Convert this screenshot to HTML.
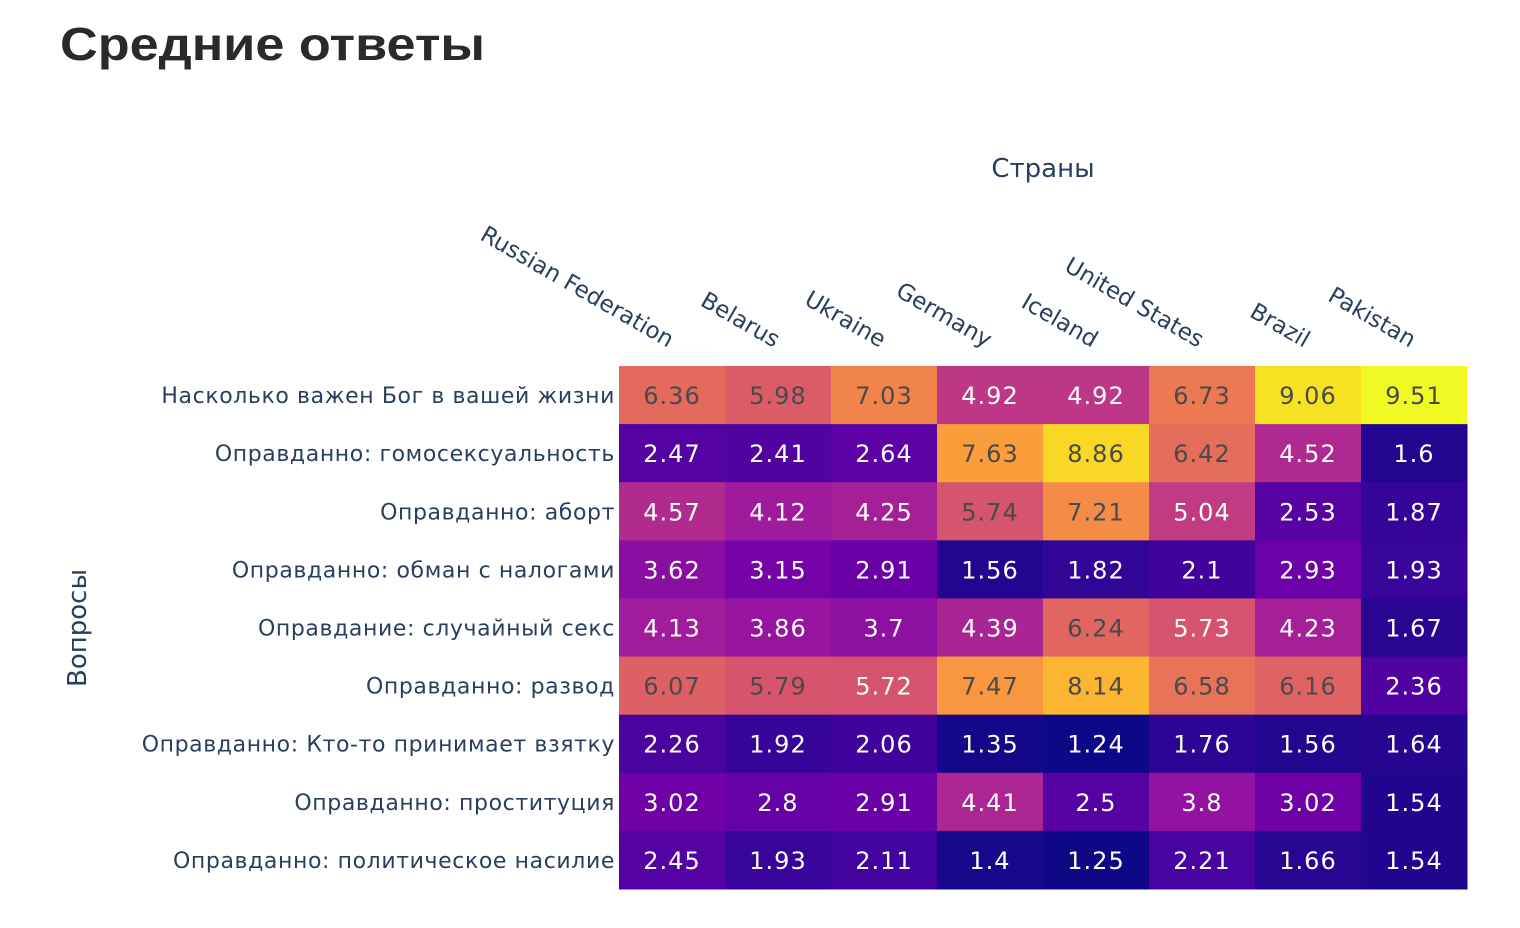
<!DOCTYPE html>
<html><head><meta charset="utf-8"><style>
body{margin:0;background:#fff;width:1520px;height:924px;overflow:hidden;font-family:"DejaVu Sans","Liberation Sans",sans-serif}
</style></head><body>
<svg id="chart" width="1520" height="924">
<text x="60" y="60" font-size="46" font-weight="bold" fill="#2a2a2a" font-family="Liberation Sans, sans-serif" textLength="425" lengthAdjust="spacingAndGlyphs">Средние ответы</text>
<text x="1043" y="177" font-size="26" fill="#2a3f5f" text-anchor="middle">Страны</text>
<text transform="translate(86,628) rotate(-90)" font-size="26" fill="#2a3f5f" text-anchor="middle">Вопросы</text>
<g id="cells"></g><g id="xl"></g><g id="yl"></g>
</svg>
<script>
const countries=["Russian Federation","Belarus","Ukraine","Germany","Iceland","United States","Brazil","Pakistan"];
const questions=["Насколько важен Бог в вашей жизни","Оправданно: гомосексуальность","Оправданно: аборт","Оправданно: обман с налогами","Оправдание: случайный секс","Оправданно: развод","Оправданно: Кто-то принимает взятку","Оправданно: проституция","Оправданно: политическое насилие"];
const values=[
[6.36,5.98,7.03,4.92,4.92,6.73,9.06,9.51],
[2.47,2.41,2.64,7.63,8.86,6.42,4.52,1.6],
[4.57,4.12,4.25,5.74,7.21,5.04,2.53,1.87],
[3.62,3.15,2.91,1.56,1.82,2.1,2.93,1.93],
[4.13,3.86,3.7,4.39,6.24,5.73,4.23,1.67],
[6.07,5.79,5.72,7.47,8.14,6.58,6.16,2.36],
[2.26,1.92,2.06,1.35,1.24,1.76,1.56,1.64],
[3.02,2.8,2.91,4.41,2.5,3.8,3.02,1.54],
[2.45,1.93,2.11,1.4,1.25,2.21,1.66,1.54]];
const plasma=["#0d0887","#46039f","#7201a8","#9c179e","#bd3786","#d8576b","#ed7953","#fb9f3a","#fdca26","#f0f921"];
const X0=619,X1=1467,Y0=366,Y1=889;
const cw=(X1-X0)/countries.length,rh=(Y1-Y0)/questions.length;
const xPos=i=>X0+i*cw, yPos=j=>Y0+j*rh;
const all=values.flat(),zmin=Math.min(...all),zmax=Math.max(...all);
function hex(h){return [1,3,5].map(k=>parseInt(h.substr(k,2),16));}
function color(v){let t=(v-zmin)/(zmax-zmin)*(plasma.length-1);let i=Math.min(Math.floor(t),plasma.length-2);let f=t-i;
let a=hex(plasma[i]),b=hex(plasma[i+1]);return a.map((c,k)=>Math.round(c+(b[k]-c)*f));}
const NS="http://www.w3.org/2000/svg";
const cells=document.getElementById('cells'),xl=document.getElementById('xl'),yl=document.getElementById('yl');
values.forEach((row,j)=>row.forEach((v,i)=>{
 const c=color(v);
 const r=document.createElementNS(NS,'rect');
 r.setAttribute('x',xPos(i));r.setAttribute('y',yPos(j));r.setAttribute('width',cw+0.5);r.setAttribute('height',rh+0.5);
 r.setAttribute('fill',`rgb(${c})`);
 
 
 cells.appendChild(r);
 const lum=(0.299*c[0]+0.587*c[1]+0.114*c[2]);
 const t=document.createElementNS(NS,'text');
 t.setAttribute('x',xPos(i)+cw/2);t.setAttribute('y',yPos(j)+rh/2+9);
 t.setAttribute('text-anchor','middle');t.setAttribute('font-size','24');
 t.setAttribute('letter-spacing','1');
 t.setAttribute('fill',lum>125?'#4a4a4a':'#ffffff');
 t.textContent=String(v);
 
 
 cells.appendChild(t);
}));
countries.forEach((n,i)=>{
 const t=document.createElementNS(NS,'text');
 const x=xPos(i)+cw/2-4,y=348;
 t.setAttribute('transform',`translate(${x},${y}) rotate(30)`);
 t.setAttribute('text-anchor','end');t.setAttribute('font-size','23');t.setAttribute('fill','#2a3f5f');
 t.textContent=n;
 
 
 xl.appendChild(t);
});
questions.forEach((n,j)=>{
 const t=document.createElementNS(NS,'text');
 t.setAttribute('x',615);t.setAttribute('y',yPos(j)+rh/2+8);
 t.setAttribute('text-anchor','end');t.setAttribute('font-size','22');t.setAttribute('fill','#2a3f5f');
 t.setAttribute('letter-spacing','0.6');
 t.textContent=n;
 
 
 yl.appendChild(t);
});
</script>
</body></html>
